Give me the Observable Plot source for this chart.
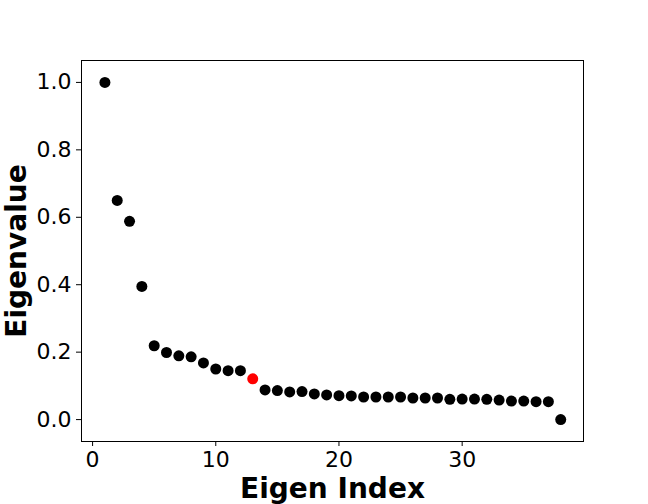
<!DOCTYPE html>
<html>
<head>
<meta charset="utf-8">
<script src="https://cdn.jsdelivr.net/npm/d3@7"></script>
<script src="https://cdn.jsdelivr.net/npm/@observablehq/plot@0.6"></script>
<style>
  html, body { margin: 0; padding: 0; background: #fff; }
  #chart svg { font-family: "DejaVu Sans", sans-serif; }
</style>
</head>
<body>
<div id="chart"></div>
<script>
const eigenIndex = [1,2,3,4,5,6,7,8,9,10,11,12,13,14,15,16,17,18,19,20,21,22,23,24,25,26,27,28,29,30,31,32,33,34,35,36,37,38];
const eigenValues = [1.0,0.650,0.588,0.395,0.219,0.199,0.189,0.186,0.168,0.150,0.145,0.145,0.121,0.088,0.086,0.082,0.083,0.076,0.073,0.071,0.070,0.067,0.067,0.067,0.067,0.064,0.064,0.064,0.060,0.061,0.061,0.060,0.058,0.055,0.055,0.053,0.053,0.0];
const highlightIndex = 13;
const xTicks = [0, 10, 20, 30];
const yTicks = [0, 0.2, 0.4, 0.6, 0.8, 1.0];
const xLabel = "Eigen Index";
const yLabel = "Eigenvalue";

const data = eigenIndex.map((k, i) => ({k, v: eigenValues[i], hi: k === highlightIndex}));

const chart = Plot.plot({
  width: 648,
  height: 504,
  marginLeft: 81,
  marginRight: 65,
  marginTop: 60,
  marginBottom: 63,
  style: {fontFamily: "DejaVu Sans, sans-serif", background: "white"},
  x: {domain: [-0.9, 39.85]},
  y: {domain: [-0.065, 1.065]},
  marks: [
    Plot.frame({stroke: "#000", strokeWidth: 1}),
    Plot.axisX({ticks: xTicks, tickSize: 5, tickPadding: 5, fontSize: 22, label: null, tickFormat: d3.format("d"), stroke: "#000"}),
    Plot.axisY({ticks: yTicks, tickSize: 5, tickPadding: 5, fontSize: 22, label: null, tickFormat: d3.format(".1f"), stroke: "#000"}),
    Plot.dot(data, {x: "k", y: "v", r: 5.5, fill: d => d.hi ? "#ff0000" : "#000", stroke: null}),
    Plot.text([xLabel], {frameAnchor: "bottom", dy: 56, lineAnchor: "bottom", text: d => d, fontSize: 28, fontWeight: "bold", fill: "#000"}),
    Plot.text([yLabel], {frameAnchor: "left", dx: -56, rotate: -90, textAnchor: "middle", lineAnchor: "bottom", text: d => d, fontSize: 28, fontWeight: "bold", fill: "#000"})
  ]
});
document.getElementById("chart").appendChild(chart);
</script>
</body>
</html>
